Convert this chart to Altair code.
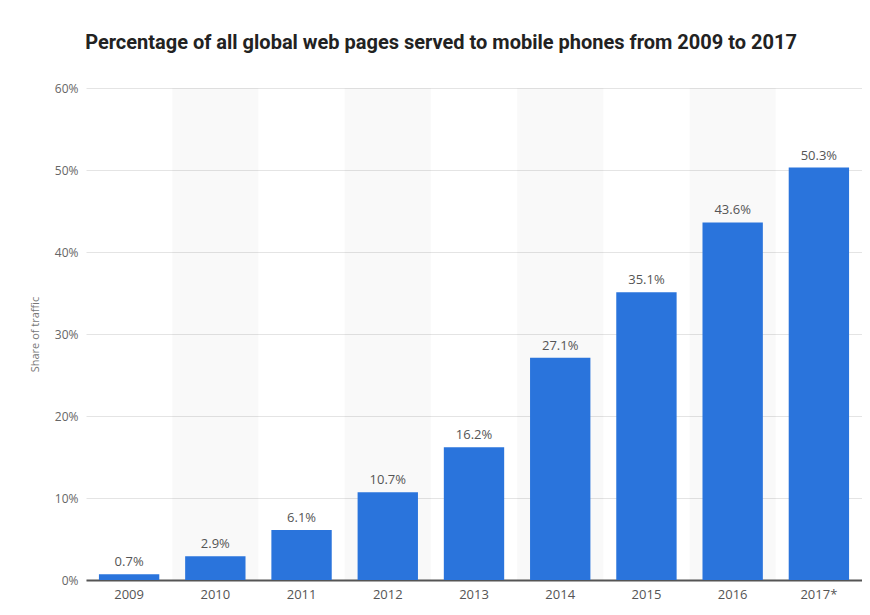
import altair as alt
import pandas as pd

years = ["2009", "2010", "2011", "2012", "2013", "2014", "2015", "2016", "2017*"]
shares = [0.7, 2.9, 6.1, 10.7, 16.2, 27.1, 35.1, 43.6, 50.3]
shaded_years = ["2010", "2012", "2014", "2016"]
y_ticks = [0, 10, 20, 30, 40, 50, 60]

df = pd.DataFrame({"year": years, "share": shares})
df["label"] = [f"{v:.1f}%" for v in shares]
bands = pd.DataFrame({"year": shaded_years, "top": [60] * len(shaded_years)})

x_scale = alt.Scale(domain=years, paddingInner=0.3, paddingOuter=0.15)
y_scale = alt.Scale(domain=[0, 60], nice=False)

x_axis = alt.Axis(title=None, labelAngle=0, labelFontSize=13, labelColor="#555555",
                  labelFont="Open Sans", labelPadding=8, ticks=False,
                  domainColor="#555555", domainWidth=2, grid=False)
y_axis = alt.Axis(title="Share of traffic", values=y_ticks,
                  labelExpr="datum.value + '%'", labelFontSize=12,
                  labelColor="#666666", labelFont="Open Sans", labelPadding=8,
                  ticks=False, domain=False, gridColor="#e4e4e4", gridWidth=1,
                  titleFontSize=11, titleColor="#777777", titleFont="Open Sans",
                  titleFontWeight="normal", titlePadding=14)

band_layer = alt.Chart(bands).mark_bar(
    width=alt.RelativeBandSize(1 / 0.7), color="#000000", opacity=0.025
).encode(
    x=alt.X("year:N", scale=x_scale, axis=x_axis, sort=years),
    y=alt.Y("top:Q", scale=y_scale, axis=y_axis),
)

bar_layer = alt.Chart(df).mark_bar(color="#2a74dc").encode(
    x=alt.X("year:N", scale=x_scale, axis=x_axis, sort=years),
    y=alt.Y("share:Q", scale=y_scale, axis=y_axis),
)

text_layer = alt.Chart(df).mark_text(
    dy=-12, fontSize=13, color="#555555", font="Open Sans"
).encode(
    x=alt.X("year:N", scale=x_scale, sort=years),
    y=alt.Y("share:Q", scale=y_scale),
    text="label:N",
)

chart = alt.layer(band_layer, bar_layer, text_layer).properties(
    width=776, height=492,
    autosize=alt.AutoSizeParams(type="none"),
    padding={"left": 78, "top": 80, "right": 0, "bottom": 27},
    title=alt.TitleParams(
        "Percentage of all global web pages served to mobile phones from 2009 to 2017",
        font="Roboto", fontSize=20, fontWeight="bold", color="#222222",
        anchor="middle", dx=-33, offset=29,
    ),
).configure_view(stroke=None)

chart.save("out.html", embed_options={"renderer": "svg", "actions": False})
